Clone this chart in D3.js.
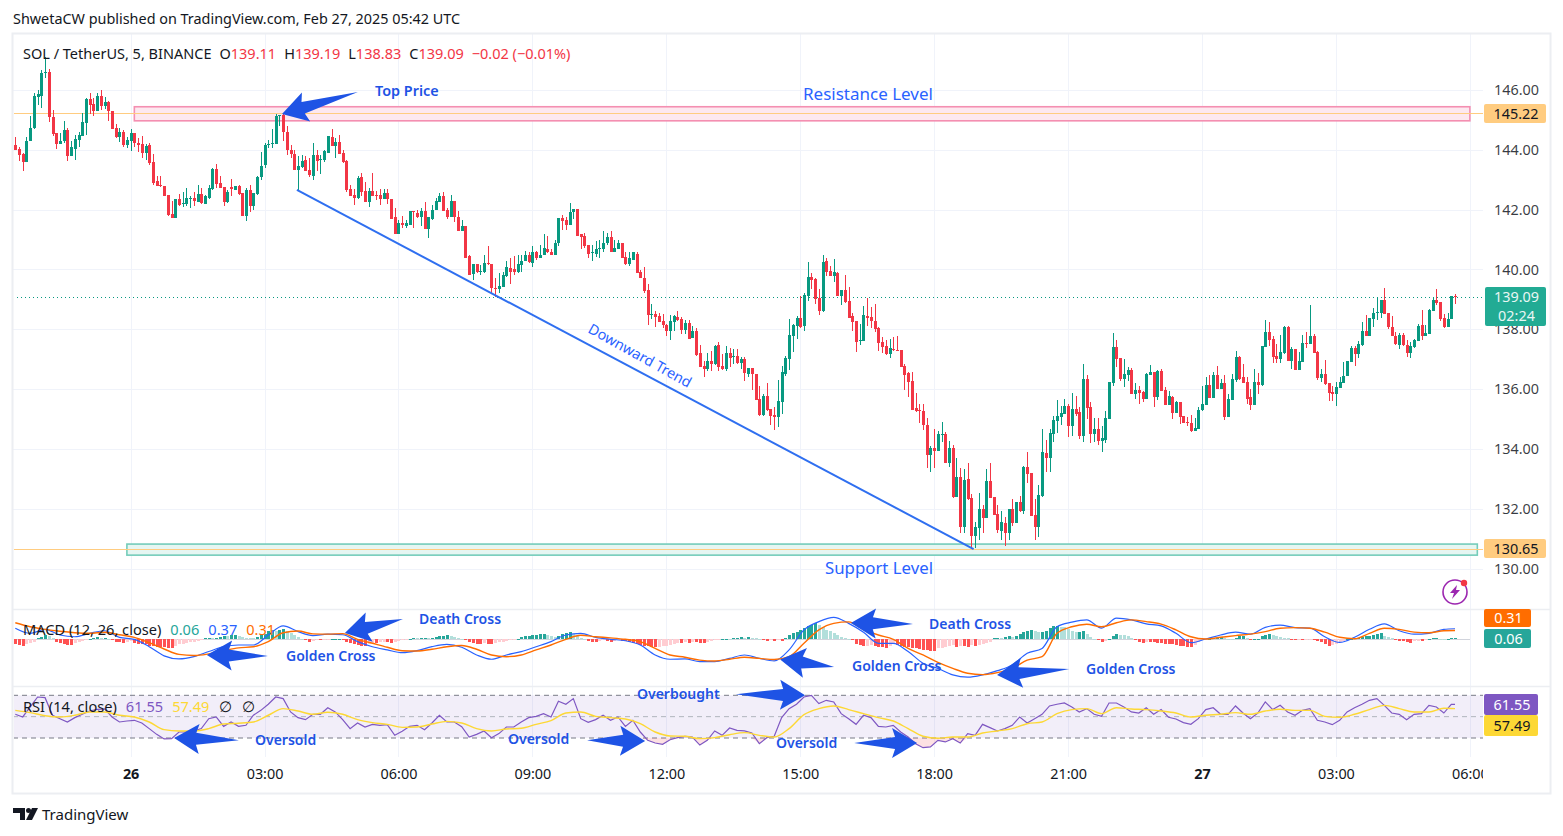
<!DOCTYPE html>
<html>
<head>
<meta charset="utf-8">
<title>SOL / TetherUS</title>
<script src="https://cdn.jsdelivr.net/npm/d3@7"></script>
<style>
html,body{margin:0;padding:0;background:#fff;overflow:hidden}
text{font-family:"Noto Sans",sans-serif}
</style>
</head>
<body>
<script>
// 5 min candles, each row is open, high, low, close
var candles=[
[144.17,144.42,144.0,144.0],[144.03,144.08,143.64,143.83],[143.87,143.89,143.28,143.58],[143.58,144.42,143.58,144.3],
[144.28,145.13,144.28,144.72],[144.72,145.89,144.7,145.8],[145.78,146.0,145.5,145.87],[145.81,146.67,145.41,146.56],
[146.58,147.1,146.4,146.6],[146.6,146.7,144.93,145.09],[145.11,145.33,144.47,144.53],[144.56,144.56,144.03,144.2],
[144.2,144.55,144.2,144.3],[144.29,144.97,144.22,144.67],[144.67,144.72,143.63,143.8],[143.8,144.28,143.8,144.09],
[144.04,144.5,143.67,144.37],[144.33,144.58,144.09,144.5],[144.47,145.22,144.47,144.92],[144.91,145.72,144.5,145.7],
[145.69,145.89,145.2,145.5],[145.53,145.72,145.13,145.31],[145.31,145.89,145.31,145.8],[145.8,146.0,145.33,145.47],
[145.47,145.78,145.36,145.6],[145.6,145.64,144.97,145.3],[145.3,145.3,144.7,144.7],[144.73,144.87,144.39,144.42],
[144.43,144.72,144.27,144.6],[144.6,144.67,144.09,144.17],[144.17,144.44,144.06,144.33],[144.3,144.7,143.97,144.57],
[144.57,144.57,144.11,144.22],[144.23,144.39,143.94,144.17],[144.2,144.47,143.73,143.9],[143.9,144.2,143.67,144.13],
[144.17,144.22,143.5,143.57],[143.6,143.87,142.83,142.9],[142.97,143.13,142.8,142.8],[142.82,143.13,142.76,142.79],
[142.8,142.8,142.44,142.47],[142.5,142.5,141.8,141.83],[141.87,142.3,141.73,141.73],[141.73,142.37,141.73,142.37],
[142.37,142.53,142.13,142.17],[142.2,142.6,142.1,142.23],[142.2,142.73,142.13,142.4],[142.38,142.47,142.07,142.4],
[142.4,142.6,142.13,142.3],[142.27,142.83,142.24,142.53],[142.53,142.73,142.2,142.21],[142.2,142.5,142.2,142.47],
[142.4,142.83,142.37,142.73],[142.7,143.4,142.67,143.37],[143.37,143.53,142.73,142.87],[142.9,143.13,142.73,142.73],
[142.77,142.77,142.13,142.27],[142.27,142.67,142.23,142.6],[142.77,143.03,142.47,142.7],[142.67,142.8,142.67,142.8],
[142.8,142.82,142.5,142.53],[142.56,142.56,141.8,141.8],[141.8,142.73,141.63,142.67],[142.67,142.83,141.93,142.13],
[142.13,142.56,142.0,142.56],[142.53,143.13,142.5,143.1],[143.09,143.93,143.0,143.46],[143.48,144.22,143.39,144.17],
[144.2,144.34,144.05,144.21],[144.22,144.7,144.05,144.24],[144.2,145.2,144.2,145.14],[145.14,145.16,144.78,145.15],
[145.15,145.2,144.31,144.58],[144.6,144.8,143.84,143.98],[144.0,144.17,143.73,143.87],[143.87,144.0,143.31,143.34],
[143.34,143.8,142.67,143.47],[143.43,143.84,143.39,143.64],[143.67,143.8,143.28,143.3],[143.34,143.72,143.08,143.17],
[143.14,144.24,143.0,143.84],[143.84,144.0,143.3,143.64],[143.69,143.84,143.2,143.7],[143.67,144.0,143.58,143.97],
[143.91,144.47,143.91,144.47],[144.44,144.7,144.14,144.14],[144.14,144.4,143.74,144.27],[144.27,144.5,143.86,143.87],
[143.9,144.0,143.57,143.6],[143.64,143.67,142.6,142.67],[142.7,142.84,142.44,142.47],[142.5,142.7,142.14,142.4],
[142.4,143.14,142.34,143.07],[143.1,143.24,142.44,142.6],[142.64,142.94,142.24,142.27],[142.27,142.73,142.1,142.64],
[142.64,143.24,142.47,142.47],[142.5,142.64,142.31,142.49],[142.5,142.7,142.17,142.34],[142.34,142.7,142.34,142.57],
[142.57,142.7,142.2,142.34],[142.37,142.37,141.7,141.7],[141.74,142.07,141.2,141.2],[141.2,141.64,141.17,141.57],
[141.57,141.8,141.4,141.5],[141.47,141.67,141.4,141.54],[141.5,141.97,141.5,141.94],[141.94,141.94,141.4,141.92],
[141.9,142.0,141.72,141.77],[141.74,142.04,141.47,141.97],[141.97,142.27,141.34,141.34],[141.34,141.77,141.04,141.74],
[141.7,142.14,141.67,142.0],[142.0,142.4,142.0,142.3],[142.27,142.54,142.27,142.47],[142.47,142.6,141.95,141.97],
[142.0,142.06,141.7,141.77],[141.77,142.5,141.77,142.3],[142.3,142.3,141.58,141.77],[141.77,141.97,141.3,141.3],
[141.3,141.64,141.3,141.47],[141.47,141.47,140.4,140.4],[140.44,140.47,139.8,139.8],[139.84,140.17,139.64,140.17],
[140.17,140.17,139.87,139.9],[139.9,140.14,139.8,139.94],[139.9,140.47,139.87,140.2],[140.2,140.77,140.14,140.17],
[140.17,140.17,139.17,139.37],[139.39,139.7,139.07,139.37],[139.34,139.87,139.2,139.44],[139.4,139.9,139.4,139.8],
[139.77,140.3,139.74,140.07],[140.06,140.4,139.53,139.91],[140.03,140.44,139.8,139.91],[139.91,140.47,139.89,140.17],
[140.14,140.47,139.92,140.3],[140.3,140.63,140.3,140.5],[140.5,140.59,140.22,140.24],[140.23,140.77,140.08,140.6],
[140.57,140.61,140.33,140.37],[140.37,140.83,140.37,140.5],[140.5,141.2,140.5,140.73],[140.7,141.13,140.56,140.6],
[140.6,140.7,140.47,140.47],[140.47,141.0,140.47,140.9],[140.87,141.73,140.77,141.73],[141.73,141.83,141.33,141.63],
[141.66,141.77,141.33,141.5],[141.5,142.23,141.5,141.93],[141.91,142.03,141.7,142.03],[142.03,142.03,141.13,141.13],
[141.17,141.17,140.7,141.07],[141.13,141.23,140.72,140.8],[140.83,140.83,140.39,140.53],[140.56,140.83,140.28,140.59],
[140.53,140.94,140.41,140.7],[140.68,140.97,140.37,140.73],[140.7,141.27,140.57,140.9],[140.87,141.23,140.83,141.07],
[141.07,141.27,140.6,140.6],[140.6,141.0,140.6,140.73],[140.7,141.0,140.67,140.87],[140.87,140.87,140.37,140.39],
[140.43,140.6,140.14,140.17],[140.17,140.57,140.1,140.37],[140.33,140.57,140.33,140.57],[140.53,140.57,139.87,139.87],
[139.9,139.97,139.7,139.7],[139.73,140.07,139.23,139.27],[139.3,139.5,138.13,138.47],[138.48,138.83,138.33,138.5],
[138.5,138.6,138.07,138.4],[138.43,138.53,138.23,138.23],[138.27,138.5,138.06,138.13],[138.13,138.17,137.77,137.93],
[137.93,138.47,137.63,138.27],[138.23,138.47,137.94,138.43],[138.4,138.6,138.28,138.31],[138.33,138.4,137.83,137.97],
[137.97,138.3,137.83,138.2],[138.2,138.3,137.67,137.67],[137.7,138.1,137.7,137.93],[137.93,138.06,137.1,137.13],
[137.2,137.47,136.73,136.73],[136.77,136.94,136.4,136.67],[136.67,137.2,136.61,136.93],[136.93,137.28,136.61,136.83],
[136.83,137.47,136.8,137.43],[137.47,137.57,136.6,136.73],[136.77,137.17,136.63,136.67],[136.67,137.43,136.6,137.2],
[137.2,137.37,136.73,137.03],[137.07,137.33,136.83,137.1],[137.1,137.33,136.83,136.87],[136.87,137.06,136.67,137.0],
[137.0,137.06,136.27,136.53],[136.5,136.7,136.4,136.7],[136.7,136.7,135.97,136.5],[136.5,136.5,135.63,135.63],
[135.67,136.1,135.1,135.13],[135.13,135.83,135.1,135.77],[135.77,136.2,135.27,135.3],[135.33,135.33,134.8,135.1],
[135.13,135.39,134.63,135.07],[135.07,136.3,134.74,135.6],[135.57,136.77,135.17,136.57],[136.5,137.1,136.44,137.03],
[137.0,138.34,136.65,137.8],[137.77,138.17,137.24,138.14],[138.1,138.45,137.67,138.37],[138.37,139.1,138.04,138.07],
[138.1,139.2,137.94,139.14],[139.1,140.24,138.94,139.74],[139.74,139.87,139.34,139.64],[139.67,139.7,138.84,139.0],
[139.04,139.34,138.47,138.6],[138.6,140.47,138.57,140.24],[140.27,140.4,139.77,139.9],[139.94,140.1,139.77,139.77],
[139.77,140.34,139.57,139.9],[139.88,139.9,139.1,139.1],[139.1,139.3,138.8,139.3],[139.3,139.8,138.87,138.9],
[138.94,139.4,138.37,138.37],[138.44,138.54,137.94,138.24],[138.27,138.27,137.24,137.57],[137.6,138.17,137.47,137.63],
[137.6,138.77,137.6,138.47],[138.44,139.04,138.1,138.37],[138.4,138.74,138.04,138.27],[138.27,138.84,137.9,138.0],
[138.04,138.07,137.27,137.54],[137.57,137.74,137.2,137.4],[137.44,137.64,137.14,137.17],[137.17,137.67,137.04,137.37],
[137.34,137.74,137.27,137.3],[137.31,137.77,137.27,137.29],[137.3,137.3,136.74,136.74],[136.77,136.84,135.97,136.47],
[136.54,136.57,135.74,136.24],[136.27,136.57,135.3,135.3],[135.37,135.87,135.24,135.27],[135.3,135.5,134.87,135.27],
[135.27,135.5,134.64,134.8],[134.8,135.04,133.37,133.8],[133.8,134.1,133.24,134.04],[134.04,134.67,133.37,133.94],
[133.94,134.6,133.94,134.5],[134.48,134.9,134.24,134.5],[134.5,134.57,133.54,133.54],[133.54,134.27,133.4,134.04],
[134.04,134.14,132.37,132.4],[132.4,133.7,132.4,133.07],[133.07,133.37,131.2,131.4],[131.4,133.34,131.2,132.97],
[133.0,133.54,132.3,132.34],[132.37,132.5,130.7,131.1],[131.1,131.57,130.7,131.4],[131.37,132.54,130.94,132.0],
[132.0,132.14,131.2,131.7],[131.7,133.34,131.7,132.94],[132.94,133.54,132.37,132.37],[132.4,132.4,131.8,131.8],
[131.84,132.14,131.2,131.3],[131.27,131.94,130.97,131.57],[131.54,131.74,130.77,131.2],[131.2,132.0,130.97,132.0],
[132.0,132.34,131.44,131.54],[131.54,132.24,131.54,132.24],[132.24,132.44,131.9,131.94],[131.94,133.44,131.84,133.4],
[133.4,133.9,132.87,133.17],[133.2,133.2,131.77,131.77],[131.8,132.34,130.94,131.4],[131.4,132.8,131.07,132.47],
[132.44,134.67,132.4,133.9],[133.88,134.31,133.24,133.71],[133.71,134.68,133.24,134.54],[134.51,135.11,134.24,134.98],
[134.94,135.64,134.54,135.11],[135.08,135.44,134.81,135.21],[135.18,135.68,135.18,135.44],[135.44,135.51,134.41,134.78],
[134.78,135.88,134.44,135.34],[135.34,135.78,135.11,135.18],[135.24,135.41,134.34,134.44],[134.44,136.84,134.24,136.34],
[136.34,136.48,135.01,135.38],[135.41,135.58,134.21,134.51],[134.51,135.04,134.24,134.68],[134.68,135.04,134.14,134.28],
[134.28,134.78,133.91,134.38],[134.31,135.28,134.21,135.04],[135.01,136.24,135.01,136.24],[136.21,137.88,136.11,137.41],
[137.41,137.64,136.74,137.01],[137.04,137.04,136.28,136.34],[136.34,137.01,136.08,136.51],[136.48,136.74,136.28,136.64],
[136.64,136.71,135.84,135.84],[135.84,136.21,135.68,135.98],[135.98,136.11,135.51,135.88],[135.91,135.94,135.58,135.68],
[135.68,136.54,135.68,136.51],[136.48,136.81,136.48,136.58],[136.58,136.58,135.41,135.74],[135.74,136.64,135.64,136.61],
[136.61,136.68,135.94,135.94],[135.98,136.08,135.48,135.48],[135.48,135.94,135.48,135.78],[135.74,135.78,135.01,135.21],
[135.21,135.61,135.21,135.58],[135.58,135.58,134.84,135.08],[135.11,135.11,134.88,134.88],[134.91,135.08,134.78,134.88],
[134.88,135.14,134.58,134.61],[134.61,135.04,134.61,134.71],[134.68,135.41,134.68,135.31],[135.31,136.11,135.28,135.51],
[135.48,136.41,135.48,136.14],[136.14,136.48,135.71,135.71],[135.71,136.58,135.71,136.48],[136.48,136.78,136.01,136.01],
[136.01,136.34,136.01,136.21],[136.21,136.48,134.98,135.08],[135.08,135.84,135.08,135.68],[135.64,136.51,135.64,136.34],
[136.31,137.28,136.24,137.08],[137.08,137.11,136.31,136.34],[136.41,136.84,136.21,136.21],[136.24,136.41,135.51,135.68],
[135.74,136.0,135.3,135.47],[135.47,136.67,135.47,136.24],[136.24,136.54,135.84,136.14],[136.14,137.44,136.1,137.44],
[137.4,138.31,137.4,137.91],[137.91,138.24,137.44,137.64],[137.67,137.77,136.87,137.07],[137.1,137.5,136.87,137.0],
[137.0,137.8,136.87,137.24],[137.2,138.11,137.17,138.07],[138.07,138.11,136.94,136.94],[136.94,137.4,136.67,137.34],
[137.34,137.34,136.64,136.64],[136.64,137.24,136.64,136.94],[136.91,137.8,136.91,137.54],[137.55,137.91,137.37,137.5],
[137.5,138.81,137.5,137.77],[137.77,137.84,137.2,137.2],[137.24,137.27,136.3,136.37],[136.37,136.67,136.24,136.5],
[136.5,136.97,136.14,136.17],[136.2,136.2,135.6,135.87],[135.9,136.1,135.6,135.84],[135.84,136.24,135.44,136.07],
[136.04,136.4,136.04,136.24],[136.2,136.9,136.2,136.44],[136.44,136.94,136.44,136.94],[136.9,137.44,136.9,137.37],
[137.37,137.44,136.77,137.17],[137.17,137.6,137.04,137.5],[137.47,138.24,137.44,137.94],[137.94,138.47,137.77,137.77],
[137.77,138.37,137.77,138.37],[138.34,138.7,138.07,138.54],[138.54,139.04,138.3,138.57],[138.54,138.97,138.37,138.97],
[138.97,139.37,138.5,138.5],[138.54,138.54,138.0,138.07],[138.07,138.44,137.77,137.77],[137.77,137.9,137.47,137.5],
[137.47,137.87,137.34,137.8],[137.8,137.87,137.44,137.47],[137.47,137.64,137.07,137.2],[137.2,137.57,137.04,137.44],
[137.4,137.67,137.37,137.64],[137.6,138.17,137.6,138.11],[138.14,138.64,137.64,137.77],[137.77,138.14,137.77,137.87],
[137.84,138.67,137.84,138.64],[138.61,139.04,138.61,138.97],[138.97,139.34,138.8,138.87],[138.9,138.9,138.27,138.34],
[138.37,138.5,138.04,138.07],[138.07,138.54,138.07,138.34],[138.34,139.11,138.34,139.11],[139.11,139.19,138.83,139.09]
];

// MACD histogram, one value per bar
var macdHist=[
-.17,-.20,-.22,-.18,-.12,-.08,.03,.08,.15,.12,.03,-.10,-.14,-.18,-.20,-.21,-.12,-.08,-.05,-.02,.02,.04,.07,.03,.05,.02,-.04,-.08,-.10,-.12,-.10,-.07,-.13,-.15,-.17,-.18,
-.22,-.24,-.26,-.27,-.28,-.30,-.31,-.22,-.18,-.15,-.13,-.10,-.08,-.05,-.02,.03,.05,.03,.06,.09,.12,.10,.14,.16,.12,.08,.05,.04,.03,.08,.14,.20,.28,.32,.30,.34,
.36,.28,.22,.15,.08,.02,-.04,-.08,-.06,-.04,-.04,-.02,-.01,.01,.02,.02,-.03,-.08,-.14,-.18,-.20,-.22,-.24,-.16,-.12,-.12,-.10,-.08,-.10,-.12,-.10,-.06,-.04,-.02,.02,.04,
.03,.05,.06,.05,.06,.08,.10,.13,.14,.12,.09,.04,.02,-.02,-.10,-.14,-.15,-.16,-.14,-.17,-.18,-.14,-.10,-.08,-.06,-.04,-.02,0,
.08,.10,.12,.14,.16,.18,.18,.14,.10,.08,.12,.18,.22,.26,.18,.12,.06,.02,-.05,-.08,-.10,-.06,-.04,-.05,-.08,-.06,-.04,-.05,-.07,-.10,-.14,-.17,-.20,-.22,-.24,-.26,-.28,-.27,
-.25,-.22,-.20,-.15,-.12,-.12,-.10,-.12,-.09,-.09,-.12,-.14,-.08,-.05,-.02,-.01,.01,.02,.01,.03,.06,.08,.05,.08,.06,.03,.01,-.04,-.06,-.03,-.05,-.03,-.07,.03,
.14,.22,.26,.32,.40,.46,.50,.56,.50,.42,.34,.28,.22,.15,.07,.03,.01,-.02,-.16,-.20,-.24,-.22,-.20,-.23,-.26,-.28,-.30,-.22,-.18,-.20,-.24,-.26,-.28,-.30,-.32,-.34,
-.36,-.38,-.40,-.42,-.32,-.30,-.26,-.24,-.20,-.26,-.22,-.24,-.26,-.20,-.22,-.20,-.16,-.12,-.10,.03,.06,.05,.08,.10,.09,.13,.20,.24,.30,.33,.28,.24,
.24,.30,.38,.45,.47,.44,.42,.36,.30,.26,.27,.28,.20,.08,.02,-.04,-.08,-.06,.02,.12,.20,.16,.14,.10,.06,-.03,-.10,-.12,-.08,-.09,-.11,-.12,-.14,-.16,-.17,-.18,-.20,-.22,
-.25,-.26,-.28,-.20,-.10,-.04,-.01,.01,.03,.05,.07,.04,.02,.01,.05,.10,.12,.05,-.04,.01,.02,.10,.16,.18,.14,.10,.08,.06,.03,-.01,-.04,-.03,-.04,-.02,-.01,-.04,
-.07,-.10,-.15,-.25,-.20,-.15,-.10,-.05,.01,.02,.04,.06,.08,.10,.13,.15,.17,.22,.12,.07,.03,-.02,-.05,-.07,-.08,-.12,-.07,-.05,-.07,-.04,.01,.03,.06,.02,.01,.01,.06,.06
];

// MACD lines, read every 4th bar, last value is the last bar
var macdLine=[
.39,.21,.35,.15,.09,.21,.30,.07,0,-.26,-.58,-.69,-.61,-.43,-.26,-.20,-.20,.15,.47,.27,.13,.18,.16,-.08,-.26,-.37,-.47,-.40,-.26,-.18,-.28,-.55,-.70,-.55,
-.43,-.26,-.08,.15,.21,.07,0,-.05,-.20,-.55,-.70,-.69,-.78,-.78,-.67,-.55,-.67,-.76,-.37,.33,.62,.77,.56,.25,-.14,-.14,-.43,-.84,-1.02,-1.25,-1.33,-1.25,-1.10,-.90,-.49,
-.32,.44,.60,.68,.39,.74,.68,.54,.47,.21,-.12,.01,.15,.25,.18,.42,.50,.41,.39,.09,-.11,.07,.35,.54,.30,.18,.21,.35,.37
];
var signalLine=[
.58,.44,.35,.28,.23,.21,.25,.16,.07,-.12,-.34,-.53,-.57,-.51,-.40,-.30,-.26,-.08,.23,.29,.19,.18,.20,0,-.14,-.28,-.40,-.41,-.35,-.26,-.22,-.35,-.55,-.61,
-.55,-.37,-.20,0,.14,.09,.05,0,-.08,-.32,-.55,-.63,-.73,-.76,-.70,-.63,-.67,-.71,-.61,-.14,.33,.56,.61,.35,.15,0,-.32,-.55,-.81,-1.02,-1.19,-1.24,-1.17,-1.02,-.73,
-.61,.21,.44,.53,.44,.58,.68,.62,.53,.33,.09,.01,.07,.13,.18,.27,.39,.41,.39,.25,.07,.02,.21,.39,.35,.25,.23,.30,.31
];

// RSI read every 2nd bar, last value is the last bar
var rsiLine=[
52.2,49.7,59.1,68.4,67.8,51.3,48.1,45,49.1,52.2,55.3,56.9,57.2,49.7,45,45.9,46.6,44.1,38.8,33.4,29.1,29.4,35.6,35.6,36.6,38.8,48.1,49.7,40.9,45,40.9,41.9,51.3,55.9,61.6,68.4,66.9,54.4,49.1,47.2,52.2,52.2,58.4,54.4,47.2,38.8,44.1,40.3,42.8,41.9,42.5,32.5,36.3,40.9,41.9,37.8,44.1,51.3,45,45,40.6,30.9,33.4,36.6,30.3,34.1,40.3,40.3,
45,49.1,50.3,52.8,49.7,64.4,61.6,66.9,48.1,44.7,47.2,51.3,46.6,49.7,40.9,46.6,35.6,27.8,25.3,24.1,28.4,30.3,31.6,30.9,23.4,27.8,36.6,32.5,39.4,37.2,36.6,34.7,24.7,30.3,31.6,49.1,57.5,61.6,68.4,70,62.2,65.3,63.8,52.8,48.1,42.8,51.3,49.1,40.9,40.3,41.9,35.6,30.9,24.7,20.9,21.6,27.8,26.3,29.4,25.3,34.1,32.5,42.8,39.7,36.6,38.8,41.9,49.7,44.1,48.1,
52.2,60,61.6,62.8,59.1,54.4,57.5,52.2,50.3,62.8,62.8,59.1,54.4,53.4,58.4,52.2,56.6,49.4,47.8,44.4,42.8,48.1,56.6,58.4,52.2,52.2,60,53.4,48.1,53.4,63.8,56.6,60.6,54.4,51.3,55.9,57.5,46.6,45,42.5,46.6,54.4,58.4,61.6,65.3,66.9,60.6,53.4,52.2,47.2,52.2,52.8,60.6,59.1,53.4,61.6,61.55
];
// RSI moving average read every 4th bar, last value is the last bar
var rsiAverage=[
55.9,53.8,50.9,49.7,51.3,54.4,54.4,51.3,49.7,45,37.8,36.6,36.6,38.8,43.1,43.8,45,51.3,57.5,55.3,52.2,54.1,52.2,47.2,44.4,42.8,40,40.3,43.1,45.6,44.1,38.8,36.6,38.4,
39.1,42.8,46.3,53.4,54.4,50.3,49.1,47.8,43.4,35.6,31.9,31.6,29.4,30.3,33.1,35,32.5,30.9,38.8,51.9,57.5,60,56.6,52.8,49.1,45.9,38.8,31.6,29.7,30.9,30.9,34.7,36.6,38.8,43.4,
45,52.8,56.6,57.5,52.8,58.4,57.2,56.6,55.3,53.4,49.7,51.3,52.2,53.8,52.2,55.3,56.9,55.9,55.9,50.3,49.4,52.2,56.6,60.6,57.5,54.4,54.4,57.8,57.49
];

var priceTicks=[130,132,134,136,138,140,142,144,146];
var timeLabels=["26","03:00","06:00","09:00","12:00","15:00","18:00","21:00","27","03:00","06:00"];
var boldLabels=["26","27"];
var rsiBands=[30,50,70];

var lastPrice=139.09;
var resistanceLine=145.22, supportLine=130.65;
var resistanceZone={fromBar:32,toBar:391,top:145.44,bottom:144.97};
var supportZone={fromBar:30,toBar:393,top:130.82,bottom:130.45};
var trendLine=[[75.7,142.66],[257.6,130.65]];

// arrows drawn on the chart: pane, tip bar, tip value, tail bar, tail value
var arrows=[
["price",71.7,145.2,92.1,145.93],
["macd",88.6,.22,104.2,.71],
["macd",51.5,-.55,67.9,-.59],
["macd",205.6,-.71,220.1,-.97],
["macd",224.6,.57,241.3,.54],
["macd",263.9,-1.25,283.3,-1.04],
["rsi",42.7,29.9,60.1,28],
["rsi",169.3,27.1,153.7,28],
["rsi",212.3,70.1,193.7,71],
["rsi",242.4,25.2,225.5,25.2]
];

//CANVAS VARIABLES
var width=1563, height=836;
var frameL=13, frameR=1550, frameT=34, frameB=793;
var plotR=1483;
var paneBottom=757;

var svg=d3.select("body").append("svg")
  .attr("width",width).attr("height",height)
  .style("display","block");

var defs=svg.append("defs");
defs.append("clipPath").attr("id","plot").append("rect")
  .attr("x",frameL+1).attr("y",frameT).attr("width",plotR-frameL-1).attr("height",paneBottom-frameT);
defs.append("clipPath").attr("id","timeClip").append("rect")
  .attr("x",frameL).attr("y",paneBottom).attr("width",plotR-frameL).attr("height",frameB-paneBottom);

//SCALES
var barMs=5*60*1000;
var firstBar=Date.UTC(2025,1,25,21,25);
function barTime(i){return new Date(firstBar+i*barMs);}
var lastIdx=candles.length-1;
var x=d3.scaleUtc().domain([barTime(0),barTime(lastIdx)]).range([15.3,1455]);
function bx(i){return x(barTime(i));}

var yPrice=d3.scaleLinear().domain([130,146]).range([568.6,90]);
var yMacd=d3.scaleLinear().domain([-1,1]).range([667.8,610.8]);
var yRsi=d3.scaleLinear().domain([30,70]).range([738,695.3]);
var paneScale={price:yPrice,macd:yMacd,rsi:yRsi};

var tickTimes=timeLabels.map(function(d,i){return new Date(Date.UTC(2025,1,26,0,0)+i*3*3600*1000);});

//FRAME AND GRID
var gridColor="#f0f3fa";
var sepColor="#eceef2";
var grid=svg.append("g");
grid.selectAll("line.v").data(tickTimes).enter().append("line").attr("class","v")
  .attr("x1",function(d){return Math.round(x(d))+.5;}).attr("x2",function(d){return Math.round(x(d))+.5;})
  .attr("y1",frameT).attr("y2",paneBottom)
  .attr("stroke",gridColor);
grid.selectAll("line.h").data(priceTicks).enter().append("line").attr("class","h")
  .attr("x1",frameL).attr("x2",plotR)
  .attr("y1",function(d){return Math.round(yPrice(d))+.5;}).attr("y2",function(d){return Math.round(yPrice(d))+.5;})
  .attr("stroke",gridColor);

svg.append("rect").attr("x",frameL-.5).attr("y",frameT-.5)
  .attr("width",frameR-frameL+1).attr("height",frameB-frameT+1)
  .attr("fill","none").attr("stroke",sepColor).attr("stroke-width",2);
svg.append("line").attr("x1",frameL).attr("x2",frameR).attr("y1",609.5).attr("y2",609.5).attr("stroke",sepColor).attr("stroke-width",1.5);
svg.append("line").attr("x1",frameL).attr("x2",frameR).attr("y1",686.5).attr("y2",686.5).attr("stroke",sepColor).attr("stroke-width",1.5);

//RSI BAND
var rsiPane=svg.append("g").attr("clip-path","url(#plot)");
rsiPane.append("rect").attr("x",frameL).attr("width",plotR-frameL)
  .attr("y",yRsi(70)).attr("height",yRsi(30)-yRsi(70))
  .attr("fill","#7e57c2").attr("fill-opacity",.1);
rsiPane.selectAll("line.band").data(rsiBands).enter().append("line").attr("class","band")
  .attr("x1",frameL).attr("x2",plotR)
  .attr("y1",function(d){return yRsi(d);}).attr("y2",function(d){return yRsi(d);})
  .attr("stroke",function(d){return d==50?"#b2b5be":"#787b86";})
  .attr("stroke-dasharray","5 4");

//PRICE LINES AND ZONES
var main=svg.append("g").attr("clip-path","url(#plot)");
main.append("rect")
  .attr("x",bx(resistanceZone.fromBar)).attr("width",bx(resistanceZone.toBar)-bx(resistanceZone.fromBar))
  .attr("y",yPrice(resistanceZone.top)).attr("height",yPrice(resistanceZone.bottom)-yPrice(resistanceZone.top))
  .attr("fill","#fde8ef").attr("stroke","#f48fb1").attr("stroke-width",1.6);
main.append("rect")
  .attr("x",bx(supportZone.fromBar)).attr("width",bx(supportZone.toBar)-bx(supportZone.fromBar))
  .attr("y",yPrice(supportZone.top)).attr("height",yPrice(supportZone.bottom)-yPrice(supportZone.top))
  .attr("fill","#e6f6f2").attr("stroke","#74ccba").attr("stroke-width",1.6);
main.selectAll("line.hi").data([resistanceLine,supportLine]).enter().append("line").attr("class","hi")
  .attr("x1",frameL).attr("x2",plotR)
  .attr("y1",function(d){return Math.round(yPrice(d))+.5;}).attr("y2",function(d){return Math.round(yPrice(d))+.5;})
  .attr("stroke","#ffcc80");
main.append("line")
  .attr("x1",frameL).attr("x2",plotR).attr("y1",Math.round(yPrice(lastPrice))+.5).attr("y2",Math.round(yPrice(lastPrice))+.5)
  .attr("stroke","#089981").attr("stroke-dasharray","1 3");

//CANDLES
var upColor="#089981", downColor="#f23645";
function candleColor(d){return d[3]>=d[0]?upColor:downColor;}
var bars=main.selectAll("g.bar").data(candles).enter().append("g").attr("class","bar")
  .attr("shape-rendering","crispEdges");
bars.append("line")
  .attr("x1",function(d,i){return Math.round(bx(i))+.5;})
  .attr("x2",function(d,i){return Math.round(bx(i))+.5;})
  .attr("y1",function(d){return yPrice(d[1]);})
  .attr("y2",function(d){return yPrice(d[2]);})
  .attr("stroke",candleColor);
bars.append("rect")
  .attr("x",function(d,i){return Math.round(bx(i))-1;})
  .attr("width",3)
  .attr("y",function(d){return Math.min(yPrice(d[0]),yPrice(d[3]));})
  .attr("height",function(d){return Math.max(1,Math.abs(yPrice(d[0])-yPrice(d[3])));})
  .attr("fill",candleColor);

//TREND LINE
main.append("line")
  .attr("x1",bx(trendLine[0][0])).attr("y1",yPrice(trendLine[0][1]))
  .attr("x2",bx(trendLine[1][0])).attr("y2",yPrice(trendLine[1][1]))
  .attr("stroke","#2f6ff0").attr("stroke-width",2);

//MACD
var macdPane=svg.append("g").attr("clip-path","url(#plot)");
macdPane.append("line").attr("x1",frameL).attr("x2",1470)
  .attr("y1",Math.round(yMacd(0))+.5).attr("y2",Math.round(yMacd(0))+.5).attr("stroke","#d1d4dc");
function histColor(d,i){
  var prev=i>0?macdHist[i-1]:d;
  if(d>=0) return d>=prev?"#26a69a":"#b2dfdb";
  return d<=prev?"#ff5252":"#ffcdd2";
}
macdPane.selectAll("rect.hist").data(macdHist).enter().append("rect").attr("class","hist")
  .attr("shape-rendering","crispEdges")
  .attr("x",function(d,i){return Math.round(bx(i))-1;})
  .attr("width",3)
  .attr("y",function(d){return Math.min(yMacd(d),yMacd(0));})
  .attr("height",function(d){return Math.max(1,Math.abs(yMacd(d)-yMacd(0)));})
  .attr("fill",histColor);

function everyBar(step){
  return function(d,k){return bx(Math.min(k*step,lastIdx));};
}
var macdPath=d3.line().x(everyBar(4)).y(function(d){return yMacd(d);}).curve(d3.curveMonotoneX);
macdPane.append("path").attr("d",macdPath(macdLine)).attr("fill","none").attr("stroke","#2962ff").attr("stroke-width",1.2);
macdPane.append("path").attr("d",macdPath(signalLine)).attr("fill","none").attr("stroke","#ff6d00").attr("stroke-width",1.4);

//RSI
var oversold=d3.area().x(everyBar(2)).y0(yRsi(30)).y1(function(d){return yRsi(Math.min(d,30));});
rsiPane.append("path").attr("d",oversold(rsiLine)).attr("fill","#f23645").attr("fill-opacity",.15);
rsiPane.append("path")
  .attr("d",d3.line().x(everyBar(2)).y(function(d){return yRsi(d);})(rsiLine))
  .attr("fill","none").attr("stroke","#7e57c2").attr("stroke-width",1.2);
rsiPane.append("path")
  .attr("d",d3.line().x(everyBar(4)).y(function(d){return yRsi(d);}).curve(d3.curveMonotoneX)(rsiAverage))
  .attr("fill","none").attr("stroke","#fdd835").attr("stroke-width",1.4);

//AXES
var priceAxis=d3.axisRight(yPrice).tickValues(priceTicks).tickSize(0).tickPadding(0).tickFormat(d3.format(".2f"));
var gPrice=svg.append("g").attr("transform","translate(1494,0)").call(priceAxis);
gPrice.select(".domain").remove();
gPrice.selectAll("text").attr("font-size",14.4).attr("fill","#131722").attr("fill-opacity",.85);

var timeAxis=d3.axisBottom(x).tickValues(tickTimes).tickSize(0).tickPadding(0)
  .tickFormat(function(d,i){return timeLabels[i];});
var gTime=svg.append("g").attr("clip-path","url(#timeClip)").append("g")
  .attr("transform","translate(0,769)").call(timeAxis);
gTime.select(".domain").remove();
gTime.selectAll("text").attr("font-size",14.4).attr("fill","#131722")
  .attr("font-weight",function(d,i){return boldLabels.indexOf(timeLabels[i])>=0?700:400;});

//BADGES
function badge(x0,y0,w,h,fill,color,labels){
  svg.append("rect").attr("x",x0).attr("y",y0).attr("width",w).attr("height",h).attr("rx",2).attr("fill",fill);
  var step=h/labels.length;
  labels.forEach(function(t,i){
    svg.append("text").attr("x",x0+w/2+1).attr("y",y0+step*i+step/2+5)
      .attr("text-anchor","middle").attr("font-size",14.4).attr("fill",color).text(t);
  });
}
badge(1484,104,62,19,"#ffcc80","#131722",["145.22"]);
badge(1484,539,62,19,"#ffcc80","#131722",["130.65"]);
badge(1485,287,61,39,"#22ab94","#e8f6f3",["139.09","02:24"]);
badge(1484,609,47,18,"#ff6d00","#ffffff",["0.31"]);
badge(1484,629,47,19,"#26a69a","#ffffff",["0.06"]);
badge(1484,694,54,21,"#7e57c2","#ffffff",["61.55"]);
badge(1484,715,54,21,"#fdd835","#131722",["57.49"]);

//ARROWS
function arrowPath(tx,ty,ex,ey){
  var dx=ex-tx, dy=ey-ty, len=Math.sqrt(dx*dx+dy*dy);
  var ux=dx/len, uy=dy/len, nx=-uy, ny=ux;
  var head=25, wing=15, neck=6, neckAt=22;
  var pts=[
    [tx,ty],
    [tx+ux*head+nx*wing,ty+uy*head+ny*wing],
    [tx+ux*neckAt+nx*neck,ty+uy*neckAt+ny*neck],
    [ex,ey],
    [tx+ux*neckAt-nx*neck,ty+uy*neckAt-ny*neck],
    [tx+ux*head-nx*wing,ty+uy*head-ny*wing]
  ];
  return "M"+pts.join("L")+"Z";
}
svg.selectAll("path.arrow").data(arrows).enter().append("path").attr("class","arrow")
  .attr("d",function(d){
    var s=paneScale[d[0]];
    return arrowPath(bx(d[1]),s(d[2]),bx(d[3]),s(d[4]));
  })
  .attr("fill","#1e53e5");

//NOTES
function note(t,px,py,size,color,weight){
  return svg.append("text").attr("x",px).attr("y",py).attr("font-size",size)
    .attr("fill",color).attr("font-weight",weight||400).text(t);
}
var noteBlue="#1e53e5", lineBlue="#2962ff";
note("Top Price",375,96,14.4,noteBlue,600);
note("Resistance Level",803,100,17,lineBlue);
note("Support Level",825,574,16.8,lineBlue);
note("Death Cross",419,624,14,noteBlue,600);
note("Golden Cross",286,661,14,noteBlue,600);
note("Oversold",255,745,14,noteBlue,600);
note("Oversold",508,744,14,noteBlue,600);
note("Overbought",637,699,14,noteBlue,600);
note("Oversold",776,748,14,noteBlue,600);
note("Golden Cross",852,671,14,noteBlue,600);
note("Death Cross",929,629,14,noteBlue,600);
note("Golden Cross",1086,674,14,noteBlue,600);
svg.append("text").attr("transform","translate(587,332) rotate(29)")
  .attr("font-size",14.4).attr("fill",lineBlue).text("Downward Trend");

//LEGENDS
function legend(px,py,size,parts){
  var t=svg.append("text").attr("x",px).attr("y",py).attr("font-size",size);
  parts.forEach(function(p){
    t.append("tspan").attr("fill",p[1]).attr("dx",p[2]||0).text(p[0]);
  });
}
var ink="#131722", red="#f23645";
note("ShwetaCW published on TradingView.com, Feb 27, 2025 05:42 UTC",13,24,14.4,ink);
legend(23,59,14.5,[["SOL / TetherUS, 5, BINANCE",ink],["O",ink,8],["139.11",red],["H",ink,8],["139.19",red],["L",ink,8],["138.83",red],["C",ink,8],["139.09",red],["−0.02 (−0.01%)",red,8]]);
legend(23,635,14.6,[["MACD (12, 26, close)",ink],["0.06","#26a69a",9],["0.37","#2962ff",9],["0.31","#ff6d00",9]]);
legend(23,712,14.6,[["RSI (14, close)",ink],["61.55","#7e57c2",9],["57.49","#fdd835",9],["∅",ink,10],["∅",ink,10]]);

//FLASH ICON
var flash=svg.append("g").attr("transform","translate(1455,592)");
flash.append("circle").attr("r",12).attr("fill","#fff").attr("stroke","#9c27b0").attr("stroke-width",1.6);
flash.append("path").attr("d","M2,-7L-5,1L-1,1L-3,7L5,-2L1,-2Z").attr("fill","#9c27b0");
flash.append("circle").attr("cx",9).attr("cy",-9).attr("r",3.2).attr("fill","#f23645");

//LOGO
var logo=svg.append("g").attr("transform","translate(13,808)").attr("fill","#131722");
logo.append("path").attr("d","M0,0H12V12H7V5H0Z");
logo.append("circle").attr("cx",15.5).attr("cy",2.5).attr("r",2.5);
logo.append("path").attr("d","M19,0H25L19,12H13Z");
note("TradingView",42,820,15,ink);
</script>
</body>
</html>
